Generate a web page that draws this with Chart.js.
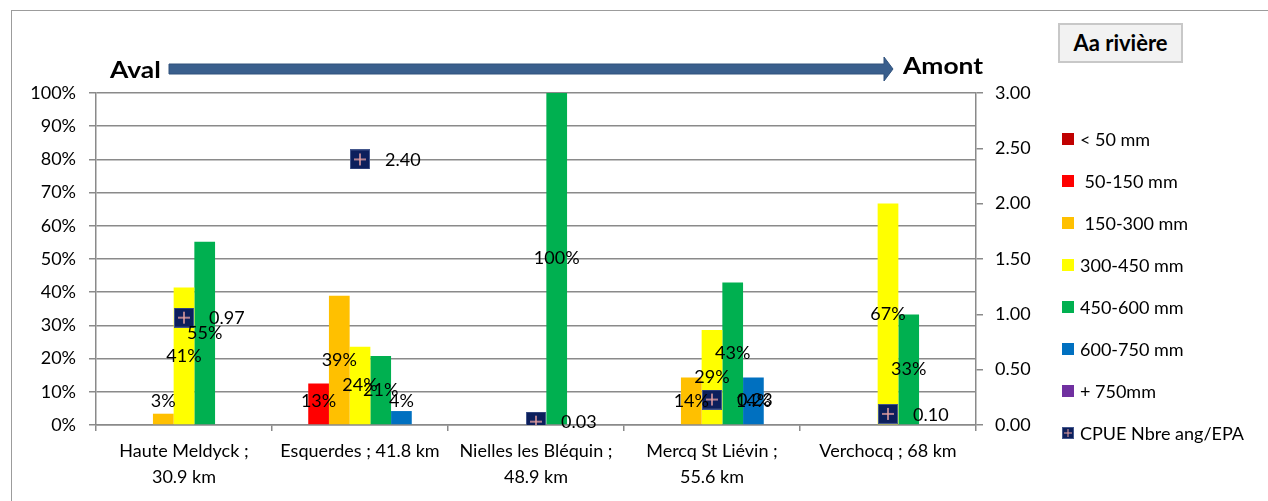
<!DOCTYPE html>
<html>
<head>
<meta charset="utf-8">
<script src="https://cdn.jsdelivr.net/npm/chart.js@4"></script>
<style>
  body { margin: 0; width: 1268px; height: 501px; overflow: hidden; position: relative; background: #fff; font-family: Lato, sans-serif; }
  #frame { position: absolute; left: 11px; top: 10px; width: 1300px; height: 600px; border: 1.5px solid #9c9c9c; }
  #fieldChart { position: absolute; left: 0; top: 0; }
  #titleBox { position: absolute; left: 1058px; top: 23px; width: 121px; height: 36px; background: #f2f2f2; border: 2px solid #c8c8c8;
              font-weight: bold; font-size: 22px; line-height: 36px; text-align: center; color: #000; }
  .dir { position: absolute; font-weight: bold; font-size: 22px; color: #000; transform: scaleX(1.2); transform-origin: left center; line-height: 24px; }
  #arrow { position: absolute; left: 0; top: 0; }
  #legend { position: absolute; left: 1062px; top: 130px; }
  #legend .item { position: relative; height: 18px; margin-bottom: 24px; font-size: 18px; line-height: 18px; white-space: pre; color: #000; }
  #legend .box { position: absolute; left: 0; top: 3px; width: 12px; height: 12px; }
  #legend .text { position: absolute; left: 18px; top: 0; }
</style>
</head>
<body>
<div id="frame"></div>
<canvas id="fieldChart" width="1268" height="501"></canvas>
<svg id="arrow" width="1268" height="100">
  <polygon points="169,64 884,64 884,57 893,69 884,81 884,74 169,74" fill="#3a5f8d" stroke="#30527d" stroke-width="1"/>
</svg>
<div class="dir" style="left:110px; top:58px;">Aval</div>
<div class="dir" style="left:903px; top:54px;">Amont</div>
<div id="titleBox">Aa rivière</div>
<div id="legend"></div>
<script>
// sites along the river, downstream -> upstream
const sites = [
  ["Haute Meldyck ;", "30.9 km"],
  "Esquerdes ; 41.8 km",
  ["Nielles les Bléquin ;", "48.9 km"],
  ["Mercq St Liévin ;", "55.6 km"],
  "Verchocq ; 68 km"
];

// size class shares (%)
const under50 = [0, 0, 0, 0, 0];
const size50_150 = [0, 12.5, 0, 0, 0];
const size150_300 = [3.4, 38.9, 0, 14.3, 0];
const size300_450 = [41.4, 23.6, 0, 28.6, 66.7];
const size450_600 = [55.2, 20.8, 100, 42.9, 33.3];
const size600_750 = [0, 4.2, 0, 14.3, 0];
const over750 = [0, 0, 0, 0, 0];

// CPUE (eels per EPA)
const cpue = [0.97, 2.40, 0.03, 0.23, 0.10];

const pctTicks = { min: 0, max: 100, step: 10 };
const cpueTicks = { min: 0, max: 3, step: 0.5 };

function make_marker(size) {
  const c = document.createElement("canvas");
  c.width = size;
  c.height = size;
  const g = c.getContext("2d");
  g.fillStyle = "#0c1f5c";
  g.fillRect(0, 0, size, size);
  g.strokeStyle = "#44578c";
  g.lineWidth = 1;
  g.strokeRect(0.5, 0.5, size - 1, size - 1);
  g.strokeStyle = "#e6a1a1";
  g.lineWidth = size > 14 ? 1.5 : 1;
  const m = size / 2;
  const a = Math.round(size * 0.2);
  g.beginPath();
  g.moveTo(a, m); g.lineTo(size - a, m);
  g.moveTo(m, a); g.lineTo(m, size - a);
  g.stroke();
  return c;
}

const plotMarker = make_marker(20);

Chart.defaults.font.family = "Lato";
Chart.defaults.font.size = 18;
Chart.defaults.color = "#000";

const valueLabels = {
  id: "valueLabels",
  afterDatasetsDraw(chart) {
    const ctx = chart.ctx;
    ctx.save();
    ctx.font = "18px Lato";
    ctx.fillStyle = "#000";
    ctx.textBaseline = "middle";
    chart.data.datasets.forEach((ds, i) => {
      const meta = chart.getDatasetMeta(i);
      meta.data.forEach((el, j) => {
        const v = ds.data[j];
        if (ds.type === "line") {
          ctx.textAlign = "left";
          ctx.fillText(v.toFixed(2), el.x + 25, el.y + 1);
        } else if (v > 0) {
          ctx.textAlign = "center";
          const y = Math.min((el.y + el.base) / 2, el.base - 23);
          ctx.fillText(Math.round(v) + "%", el.x, y);
        }
      });
    });
    ctx.restore();
  }
};

// legend built in html from the datasets
const htmlLegend = {
  id: "htmlLegend",
  afterUpdate(chart) {
    const box = document.getElementById("legend");
    box.innerHTML = "";
    chart.data.datasets.forEach(ds => {
      const item = document.createElement("div");
      item.className = "item";
      let swatch;
      if (ds.type === "line") {
        swatch = make_marker(12);
      } else {
        swatch = document.createElement("span");
        swatch.style.background = ds.backgroundColor;
      }
      swatch.className = "box";
      const text = document.createElement("span");
      text.className = "text";
      text.textContent = ds.label;
      item.appendChild(swatch);
      item.appendChild(text);
      box.appendChild(item);
    });
  }
};

function bar(label, data, color) {
  return { type: "bar", label, data, backgroundColor: color, borderWidth: 0, yAxisID: "y" };
}

const gridColor = "#8a8a8a";

new Chart(document.getElementById("fieldChart"), {
  data: {
    labels: sites,
    datasets: [
      bar("< 50 mm", under50, "#c00000"),
      bar(" 50-150 mm", size50_150, "#ff0000"),
      bar(" 150-300 mm", size150_300, "#ffc000"),
      bar("300-450 mm", size300_450, "#ffff00"),
      bar("450-600 mm", size450_600, "#00b050"),
      bar("600-750 mm", size600_750, "#0070c0"),
      bar("+ 750mm", over750, "#7030a0"),
      {
        type: "line",
        label: "CPUE Nbre ang/EPA",
        data: cpue,
        yAxisID: "y1",
        showLine: false,
        pointStyle: plotMarker,
        pointRadius: 10,
        backgroundColor: "#0c1f5c",
        borderColor: "#0c1f5c",
        order: -1
      }
    ]
  },
  options: {
    responsive: false,
    animation: false,
    datasets: { bar: { categoryPercentage: 7 / 8.5, barPercentage: 1 } },
    layout: { padding: { top: 93, bottom: 0, left: 0, right: 228 } },
    plugins: {
      tooltip: { enabled: false },
      legend: { display: false }
    },
    scales: {
      x: {
        grid: { drawOnChartArea: false, tickLength: 6, color: gridColor, lineWidth: 1.5 },
        border: { color: gridColor, width: 1.5 },
        ticks: { maxRotation: 0, autoSkip: false, padding: 7, font: { size: 18, lineHeight: 26 / 18 } },
        afterFit(scale) { scale.height = 76; }
      },
      y: {
        position: "left",
        min: pctTicks.min,
        max: pctTicks.max,
        grid: { color: gridColor, lineWidth: 1.5, tickLength: 7 },
        border: { color: gridColor, width: 1.5 },
        ticks: { stepSize: pctTicks.step, padding: 13, callback: v => v + "%" },
        afterFit(scale) { scale.width = 96; }
      },
      y1: {
        position: "right",
        min: cpueTicks.min,
        max: cpueTicks.max,
        grid: { drawOnChartArea: false, color: gridColor, lineWidth: 1.5, tickLength: 7 },
        border: { color: gridColor, width: 1.5 },
        ticks: { stepSize: cpueTicks.step, padding: 12, callback: v => v.toFixed(2) },
        afterFit(scale) { scale.width = 64; }
      }
    }
  },
  plugins: [valueLabels, htmlLegend]
});
</script>
</body>
</html>
